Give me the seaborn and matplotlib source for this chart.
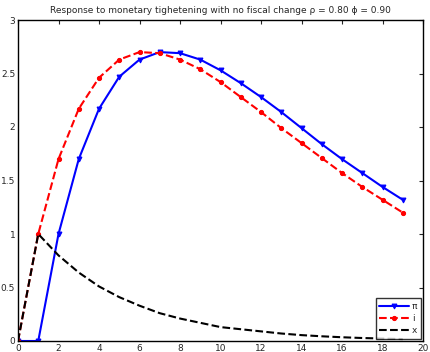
import matplotlib
matplotlib.use("Agg")
import matplotlib.pyplot as plt
import seaborn as sns
import pandas as pd

sns.set_style("white")
plt.rcParams["font.family"] = ["DejaVu Sans"]

periods = list(range(20))
inflation = [0, 0, 1.00, 1.70, 2.17, 2.47, 2.63, 2.70, 2.69, 2.63,
             2.53, 2.41, 2.28, 2.14, 1.99, 1.84, 1.70, 1.57, 1.44, 1.32]
interest = [0, 1.00, 1.70, 2.17, 2.46, 2.63, 2.70, 2.69, 2.63, 2.54,
            2.42, 2.28, 2.14, 1.99, 1.85, 1.71, 1.57, 1.44, 1.32, 1.20]
output_gap = [0, 1.00, 0.80, 0.64, 0.51, 0.41, 0.33, 0.26, 0.21, 0.17,
              0.13, 0.11, 0.09, 0.07, 0.055, 0.044, 0.035, 0.028, 0.023, 0.018]

df = pd.DataFrame({"t": periods, "pi": inflation, "i": interest, "x": output_gap})

fig = plt.figure(figsize=(4.3, 3.52), dpi=100)
ax = fig.add_axes([18 / 430, 11 / 352, 405 / 430, 321 / 352])

sns.lineplot(data=df, x="t", y="pi", ax=ax, color="blue", lw=1.5,
             marker="v", markersize=3.5, markeredgecolor="blue", label="π")
sns.lineplot(data=df, x="t", y="i", ax=ax, color="red", lw=1.5,
             linestyle="--", marker="o", markersize=3, markeredgecolor="red", label="i")
sns.lineplot(data=df, x="t", y="x", ax=ax, color="black", lw=1.5,
             linestyle="--", label="x")

ax.set_xlim(0, 20)
ax.set_ylim(0, 3)
ax.set_xticks(range(0, 21, 2))
ax.set_yticks([0, 0.5, 1, 1.5, 2, 2.5, 3])
ax.set_yticklabels(["0", "0.5", "1", "1.5", "2", "2.5", "3"])
ax.set_xlabel("")
ax.set_ylabel("")
ax.tick_params(direction="in", top=True, right=True, labelsize=6.5,
               length=3, width=0.8, pad=2)
for s in ax.spines.values():
    s.set_color("black")
    s.set_linewidth(1)

ax.set_title("Response to monetary tighetening with no fiscal change ρ = 0.80 ϕ = 0.90",
             fontsize=6.5, pad=5)

leg = ax.legend(loc="lower right", fontsize=6.5, frameon=True, fancybox=False,
                handlelength=3.3, borderpad=0.4, labelspacing=0.35,
                handletextpad=0.3, borderaxespad=0.25)
leg.get_frame().set_edgecolor("black")
leg.get_frame().set_linewidth(1)

fig.savefig("out.png", dpi=100)
